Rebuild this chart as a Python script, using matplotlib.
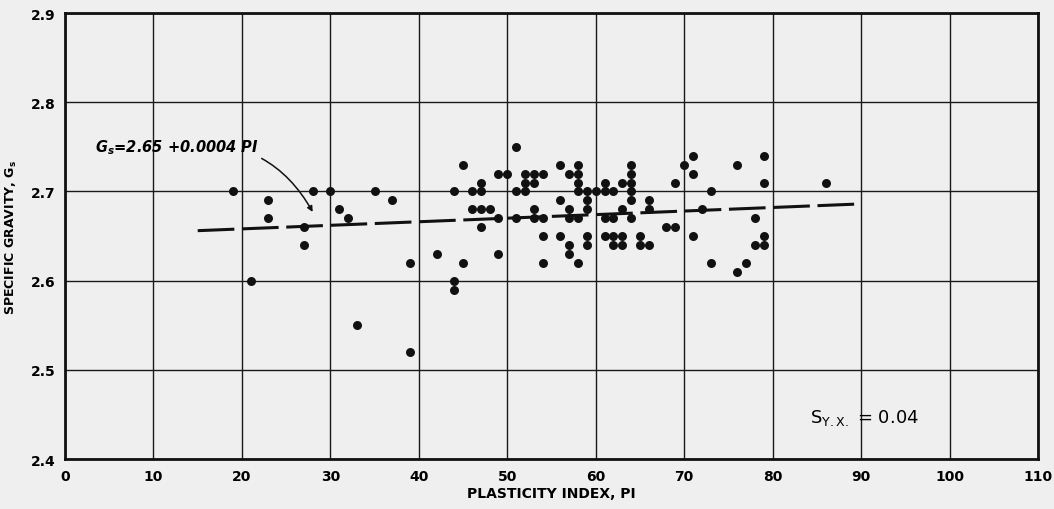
import numpy as np
import matplotlib.pyplot as plt

# data: plasticity index vs specific gravity
pi_vals = [19, 21, 23, 23, 27, 27, 28, 30, 31, 32, 33, 35, 37, 39, 39,
           42, 44, 44, 44, 45, 45, 46, 46, 47, 47, 47, 47, 48, 49, 49, 49, 50, 51, 51, 51,
           52, 52, 52, 53, 53, 53, 53, 54, 54, 54, 54,
           56, 56, 56, 57, 57, 57, 57, 57, 58, 58, 58, 58, 58, 58,
           59, 59, 59, 59, 59, 60, 61, 61, 61, 61, 62, 62, 62, 62, 63, 63, 63, 63,
           64, 64, 64, 64, 64, 64, 65, 65, 66, 66, 66,
           68, 69, 69, 70, 71, 71, 71, 72, 73, 73, 76, 76, 77, 78, 78, 79, 79, 79, 79, 86]
gs_vals = [2.70, 2.60, 2.69, 2.67, 2.66, 2.64, 2.70, 2.70, 2.68, 2.67, 2.55, 2.70, 2.69, 2.62, 2.52,
           2.63, 2.70, 2.60, 2.59, 2.73, 2.62, 2.70, 2.68, 2.71, 2.70, 2.68, 2.66, 2.68, 2.72, 2.67, 2.63, 2.72, 2.75, 2.70, 2.67,
           2.72, 2.71, 2.70, 2.72, 2.71, 2.68, 2.67, 2.72, 2.67, 2.65, 2.62,
           2.73, 2.69, 2.65, 2.72, 2.68, 2.67, 2.64, 2.63, 2.73, 2.72, 2.71, 2.70, 2.67, 2.62,
           2.70, 2.69, 2.68, 2.65, 2.64, 2.70, 2.71, 2.70, 2.67, 2.65, 2.70, 2.67, 2.65, 2.64, 2.71, 2.68, 2.65, 2.64,
           2.73, 2.72, 2.71, 2.70, 2.69, 2.67, 2.65, 2.64, 2.69, 2.68, 2.64,
           2.66, 2.66, 2.71, 2.73, 2.74, 2.72, 2.65, 2.68, 2.70, 2.62, 2.73, 2.61, 2.62, 2.67, 2.64, 2.74, 2.71, 2.65, 2.64, 2.71]

# regression line Gs = 2.65 + 0.0004 PI, drawn over PI 15..90
fit_pi = np.array([15, 90])
b0 = 2.65
b1 = 0.0004

xticks = [0, 10, 20, 30, 40, 50, 60, 70, 80, 90, 100, 110]
yticks = [2.4, 2.5, 2.6, 2.7, 2.8, 2.9]
ytick_labels = ['2.4', '2.5', '2.6', '2.7', '2.8', '2.9']

bg = '#efefef'
fig = plt.figure(figsize=(10.54, 5.10), dpi=100)
fig.patch.set_facecolor(bg)
ax = fig.add_axes([0.0617, 0.098, 0.9231, 0.8745])
ax.set_facecolor(bg)

ax.set_xlim(0, 110)
ax.set_ylim(2.4, 2.9)
ax.set_xticks(xticks)
ax.set_xticklabels([str(t) for t in xticks])
ax.set_yticks(yticks)
ax.set_yticklabels(ytick_labels)
ax.tick_params(length=0, pad=7, labelsize=10)
for lab in ax.get_xticklabels() + ax.get_yticklabels():
    lab.set_fontweight('bold')
ax.grid(True, color='#1a1a1a', linewidth=1.0)
ax.set_axisbelow(True)
for s in ax.spines.values():
    s.set_linewidth(2)
    s.set_color('#111111')

ax.plot(fit_pi, b0 + b1 * fit_pi, color='#111111', linewidth=2.2,
        dashes=(12, 2.5), zorder=3)
ax.scatter(pi_vals, gs_vals, s=42, color='#111111', zorder=4, linewidths=0)

ax.annotate(r'$\mathbfit{G_s}$' + '=2.65 +0.0004 PI', xy=(28.0, 2.677),
            xytext=(3.4, 2.75), fontsize=10.5, fontweight='bold', style='italic',
            va='center', ha='left',
            arrowprops=dict(arrowstyle='-|>', color='#111111', lw=1.1,
                            mutation_scale=8,
                            connectionstyle='arc3,rad=-0.35',
                            shrinkA=0, shrinkB=0))

ax.text(84.2, 2.447, r'S$_{\mathrm{Y.X.}}$ = 0.04', fontsize=13, va='center', ha='left')

ax.set_xlabel('PLASTICITY INDEX, PI', fontsize=10, fontweight='bold', labelpad=2)
ax.set_ylabel('SPECIFIC GRAVITY, G$_\\mathbf{s}$', fontsize=9, fontweight='bold', labelpad=8)

fig.savefig('out.png', dpi=100, facecolor=bg)
